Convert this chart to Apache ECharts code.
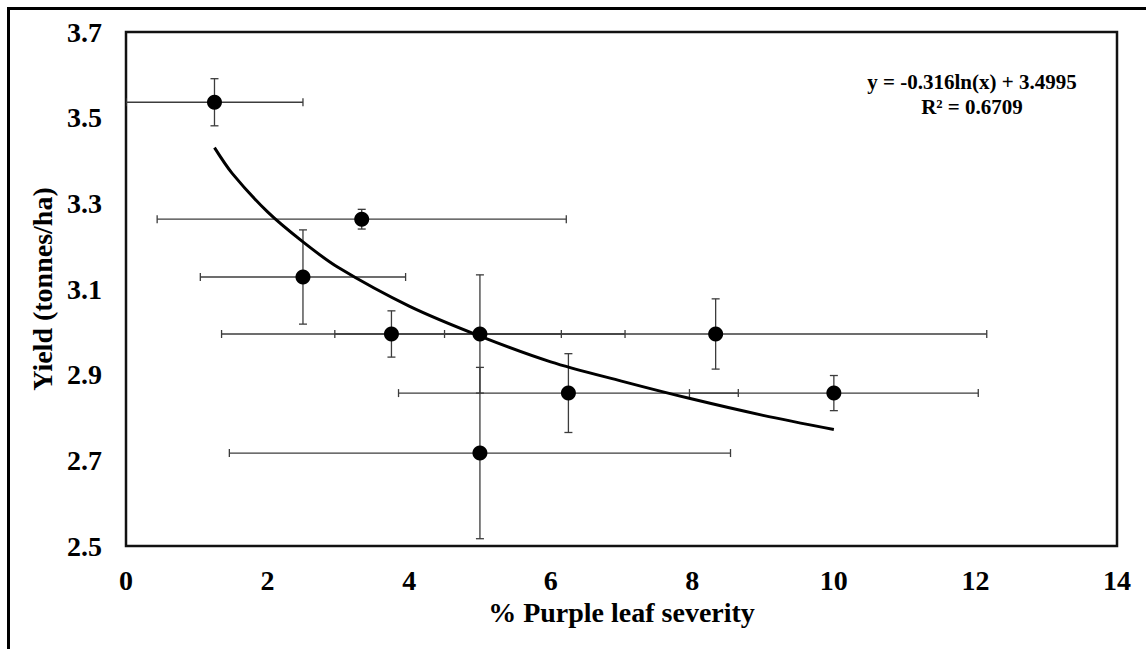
<!DOCTYPE html>
<html>
<head>
<meta charset="utf-8">
<script src="https://cdn.jsdelivr.net/npm/echarts@6/dist/echarts.min.js"></script>
<style>
  html, body { margin: 0; padding: 0; background: #fff; }
  #chart { width: 1146px; height: 649px; }
</style>
</head>
<body>
<div id="chart"></div>
<script>
// measured points (x = % purple leaf severity, y = yield)
const xVals = [1.25, 3.33, 2.5, 3.75, 5.0, 8.33, 6.25, 10.0, 5.0]
const yVals = [3.536, 3.263, 3.128, 2.995, 2.995, 2.995, 2.857, 2.857, 2.717]
const xErr = [1.25, 2.89, 1.45, 2.40, 2.05, 3.83, 2.40, 2.04, 3.54]
const yErr = [0.055, 0.023, 0.11, 0.054, 0.138, 0.082, 0.092, 0.041, 0.2]

// trend curve
const trendX = [1.25, 1.5, 2, 2.5, 3, 4, 5, 6, 7, 8, 9, 10]
const trendY = [3.43, 3.37, 3.28, 3.21, 3.15, 3.06, 2.99, 2.93, 2.885, 2.843, 2.805, 2.772]

const yLabels = ['2.5', '2.7', '2.9', '3.1', '3.3', '3.5', '3.7']
const eqLines = ['y = -0.316ln(x) + 3.4995', 'R² = 0.6709']

const font = 'Liberation Serif, Times New Roman, serif'

const points = xVals.map((x, i) => [x, yVals[i]])
const errData = xVals.map((x, i) => [x, yVals[i], xErr[i], yErr[i]])
const trendData = trendX.map((x, i) => [x, trendY[i]])

function renderErr(params, api) {
  const x = api.value(0)
  const y = api.value(1)
  const xe = api.value(2)
  const ye = api.value(3)
  const l = api.coord([x - xe, y])
  const r = api.coord([x + xe, y])
  const t = api.coord([x, y + ye])
  const b = api.coord([x, y - ye])
  const cap = 4
  const style = { stroke: '#3c3c3c', lineWidth: 1.3 }
  const seg = (x1, y1, x2, y2) => ({ type: 'line', shape: { x1, y1, x2, y2 }, style })
  return {
    type: 'group',
    children: [
      seg(l[0], l[1], r[0], r[1]),
      seg(l[0], l[1] - cap, l[0], l[1] + cap),
      seg(r[0], r[1] - cap, r[0], r[1] + cap),
      seg(t[0], t[1], b[0], b[1]),
      seg(t[0] - cap, t[1], t[0] + cap, t[1]),
      seg(b[0] - cap, b[1], b[0] + cap, b[1])
    ]
  }
}

const chart = echarts.init(document.getElementById('chart'), null, { renderer: 'svg' })

chart.setOption({
  animation: false,
  backgroundColor: '#fff',
  grid: {
    left: 126,
    right: 29,
    top: 32,
    bottom: 103,
    show: true,
    borderColor: '#111',
    borderWidth: 2.5,
    backgroundColor: 'transparent'
  },
  xAxis: {
    type: 'value',
    min: 0,
    max: 14,
    interval: 2,
    name: '% Purple leaf severity',
    nameLocation: 'middle',
    nameGap: 52,
    nameTextStyle: { fontFamily: font, fontWeight: 'bold', fontSize: 28, color: '#000' },
    axisLine: { show: false },
    axisTick: { show: false },
    splitLine: { show: false },
    axisLabel: { fontFamily: font, fontWeight: 'bold', fontSize: 28, color: '#000', margin: 20 }
  },
  yAxis: {
    type: 'value',
    min: 2.5,
    max: 3.7,
    interval: 0.1,
    name: 'Yield (tonnes/ha)',
    nameLocation: 'middle',
    nameGap: 64,
    nameTextStyle: { fontFamily: font, fontWeight: 'bold', fontSize: 28, color: '#000' },
    axisLine: { show: false },
    axisTick: { show: false },
    splitLine: { show: false },
    axisLabel: {
      fontFamily: font,
      fontWeight: 'bold',
      fontSize: 28,
      color: '#000',
      margin: 24,
      formatter: v => {
        const s = v.toFixed(1)
        return yLabels.indexOf(s) >= 0 ? s : ''
      }
    }
  },
  graphic: [
    {
      type: 'rect',
      left: 7,
      top: 7,
      shape: { width: 1300, height: 800 },
      style: { fill: 'transparent', stroke: '#000', lineWidth: 3 },
      silent: true
    },
    {
      type: 'text',
      x: 972,
      y: 82,
      style: {
        text: eqLines[0],
        fontFamily: font,
        fontWeight: 'bold',
        fontSize: 21,
        fill: '#000',
        align: 'center',
        verticalAlign: 'middle'
      }
    },
    {
      type: 'text',
      x: 972,
      y: 107,
      style: {
        text: eqLines[1],
        fontFamily: font,
        fontWeight: 'bold',
        fontSize: 21,
        fill: '#000',
        align: 'center',
        verticalAlign: 'middle'
      }
    }
  ],
  series: [
    {
      type: 'custom',
      renderItem: renderErr,
      data: errData,
      encode: { x: 0, y: 1 },
      clip: true,
      z: 2
    },
    {
      type: 'line',
      data: trendData,
      smooth: 0.3,
      showSymbol: false,
      lineStyle: { color: '#000', width: 3 },
      z: 3
    },
    {
      type: 'scatter',
      data: points,
      symbolSize: 15,
      itemStyle: { color: '#000', opacity: 1 },
      z: 4
    }
  ]
})
</script>
</body>
</html>
